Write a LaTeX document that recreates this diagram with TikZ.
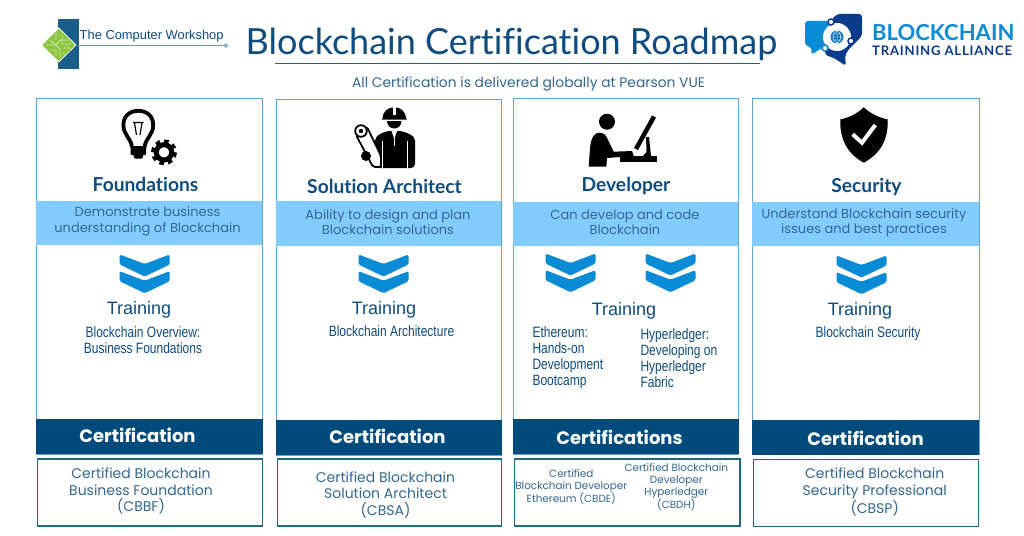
\documentclass[tikz,border=0pt]{standalone}
\usepackage{fontspec}
\setmainfont[Ligatures=NoCommon]{Lato}
\newfontfamily\bodyfont{Poppins}
\newfontfamily\plainfont{Liberation Sans}
\newfontfamily\narrowfont[FakeStretch=0.8]{Liberation Sans}
\newfontfamily\spacedfont[LetterSpace=6]{Lato}
\definecolor{inkblue}{HTML}{0F4C7F}
\definecolor{cardline}{HTML}{5FA5D8}
\definecolor{bandblue}{HTML}{82CCFF}
\definecolor{darkblue}{HTML}{004B7C}
\definecolor{certline}{HTML}{1F6A80}
\definecolor{chevblue}{HTML}{0A8BD6}
\definecolor{leafgreen}{HTML}{8CC63F}
\definecolor{navyblue}{HTML}{0B3B8C}
\tikzset{
  cardbox/.style={draw=cardline,fill=white,line width=1pt,anchor=north west,inner sep=0pt,minimum height=355.5pt},
  bandbox/.style={fill=bandblue,anchor=north west,inner sep=0pt,minimum height=44.5pt},
  darkbox/.style={fill=darkblue,anchor=north west,inner sep=0pt,minimum height=35pt},
  certbox/.style={draw=certline,fill=white,line width=1.6pt,anchor=north west,inner sep=0pt,minimum height=67pt},
  headtext/.style={text=inkblue,anchor=base,font=\bfseries\fontsize{19.2}{21}\selectfont},
  bandtext/.style={text=inkblue!85,align=center,font=\bodyfont\fontsize{13}{15.5}\selectfont},
  traintext/.style={text=inkblue,anchor=base,font=\plainfont\fontsize{18}{20}\selectfont},
  coursetext/.style={text=inkblue,font=\narrowfont\fontsize{15}{16}\selectfont},
  whitetext/.style={text=white,anchor=base,font=\bodyfont\bfseries\fontsize{18}{20}\selectfont},
  certtext/.style={text=inkblue!85,align=center,font=\bodyfont\fontsize{14}{16.5}\selectfont},
  smalltext/.style={text=inkblue!85,align=center,font=\bodyfont\fontsize{10.4}{12}\selectfont},
  chevrons/.pic={
    \fill[chevblue,rounded corners=1.5pt] (-25,0) -- (0,9.5) -- (25,0) -- (25,10) -- (0,22) -- (-25,10) -- cycle;
    \fill[chevblue,rounded corners=1.5pt] (-25,16.7) -- (0,26.2) -- (25,16.7) -- (25,26.7) -- (0,38.7) -- (-25,26.7) -- cycle;
  }
}
\begin{document}
\begin{tikzpicture}[x=1pt,y=-1pt]
  \useasboundingbox (0,0) rectangle (1024,535);
  \fill[white] (0,0) rectangle (1024,535);
  \node[text=inkblue,anchor=base west,inner sep=0pt,font=\fontsize{36}{40}\selectfont] (title) at (245.5,54.5) {Blockchain Certification Roadmap};
  \coordinate (rule0) at (275,63.5);
  \coordinate (rule1) at (760,63.5);
  \draw[inkblue!90,line width=0.9pt] (rule0) -- (rule1);
  \node[text=inkblue!85,anchor=base,inner sep=0pt,font=\bodyfont\fontsize{13.85}{15}\selectfont] (subtitle) at (528.5,87) {All Certification is delivered globally at Pearson VUE};

  \fill[darkblue!90] (58,19) rectangle (78.5,69);
  \fill[leafgreen,draw=white,line width=0.8pt] (41.5,45) -- (58.8,28) -- (76,45) -- (58.8,62) -- cycle;
  \draw[white!60!leafgreen,line width=0.8pt] (46,45) -- (56,45) -- (60,40) -- (68,40) (50,40) -- (60,49) -- (60,57) (56,33) -- (56,40) (62,35) -- (62,44) -- (71,44) (64,48) -- (70,48) (50,50) -- (56,50) -- (56,56) (64,52) -- (64,55);
  \node[text=inkblue,anchor=base west,inner sep=0pt,font=\plainfont\fontsize{12.9}{16}\selectfont] (tcwname) at (79.5,40) {The Computer Workshop};
  \coordinate (tcw0) at (78,45.5);
  \coordinate (tcw1) at (226,45.5);
  \draw[inkblue!60,line width=0.7pt] (tcw0) -- (tcw1);
  \draw[inkblue!60,line width=0.7pt] (226,45.5) circle (1.8);

  \fill[chevblue,rounded corners=3pt] (805,21) -- (830,21) -- (830,47) -- (820,49) -- (811,55) -- (812,48) -- (805,45) -- cycle;
  \fill[navyblue,rounded corners=3pt] (831,20) -- (837,14) -- (862,14) -- (862,36) -- (848,50) -- (845,56) -- (846,66) -- (834,58) -- (825,55) -- (825,46) -- cycle;
  \fill[white] (837,37) circle (14);
  \fill[chevblue!70!navyblue] (837,37) circle (6.5);
  \draw[white,line width=0.4pt] (830.5,37) -- (843.5,37) (837,30.5) -- (837,43.5) (831.5,34) -- (842.5,34) (831.5,40) -- (842.5,40) (837,30.5) .. controls (832,34) and (832,40) .. (837,43.5) (837,30.5) .. controls (842,34) and (842,40) .. (837,43.5);
  \draw[navyblue,fill=white,line width=1.5pt] (831,22) circle (3);
  \draw[navyblue,fill=white,line width=1.5pt] (851,41) circle (3);
  \draw[chevblue,fill=white,line width=1.5pt] (825,48) circle (3);
  \node[text=chevblue,anchor=base west,inner sep=0pt,font=\bfseries\fontsize{22}{24}\selectfont] (btaname) at (872,41) {BLOCKCHAIN};
  \node[text=navyblue,anchor=base west,inner sep=0pt,font=\spacedfont\bfseries\fontsize{13.1}{14}\selectfont] (btasub) at (872,55.5) {TRAINING ALLIANCE};

  \node[cardbox,minimum width=226pt] (card0) at (36,98) {};
  \node[cardbox,minimum width=225pt] (card1) at (276,99) {};
  \node[cardbox,minimum width=225.5pt] (card2) at (512.5,98) {};
  \node[cardbox,minimum width=226.5pt] (card3) at (752,98) {};

  \node[bandbox,minimum width=226pt] (band0) at (36,200.5) {};
  \node[bandbox,minimum width=225pt] (band1) at (276,201) {};
  \node[bandbox,minimum width=225.5pt] (band2) at (512.5,201.5) {};
  \node[bandbox,minimum width=226.5pt] (band3) at (752,201.5) {};

  \node[darkbox,minimum width=226.5pt] (dark0) at (36,419) {};
  \node[darkbox,minimum width=225.5pt] (dark1) at (276,419.5) {};
  \node[darkbox,minimum width=226pt] (dark2) at (512.5,419) {};
  \node[darkbox,minimum width=227pt] (dark3) at (752,420) {};

  \node[certbox,minimum width=225pt] (cert0) at (36.5,458) {};
  \node[certbox,minimum width=224pt] (cert1) at (276.5,458) {};
  \node[certbox,minimum width=225.5pt] (cert2) at (513.5,458) {};
  \node[certbox,minimum width=225pt] (cert3) at (752.5,458.5) {};

  \draw[line width=3.8pt] (132,147) .. controls (131,138) and (123.4,135) .. (123.4,125) .. controls (123.4,116) and (130,110.8) .. (138.3,110.8) .. controls (146.6,110.8) and (153.2,116) .. (153.2,125) .. controls (153.2,135) and (145.6,138) .. (144.6,147);
  \fill[rounded corners=1pt] (130.5,146) rectangle (146,155);
  \fill[rounded corners=1.5pt] (133.5,154) rectangle (143,158.5);
  \draw[line width=1.2pt] (133,122.5) -- (143.5,122.5) (134.5,123) -- (136.5,135) (142,123) -- (140,135);
  \draw[line width=4pt,dash pattern=on 4.4pt off 4.2pt] (164,152.3) circle (11);
  \draw[line width=5pt] (164,152.3) circle (7.7);

  \fill (382.5,118.5) .. controls (383,111) and (388,107.3) .. (394.3,107.3) .. controls (400.6,107.3) and (405.5,111) .. (406,118.5) -- (407,119.5) -- (381.5,119.5) -- cycle;
  \fill[white] (392.7,107) rectangle (395.9,115);
  \fill (387,121) .. controls (387,125) and (390,128.5) .. (394.3,128.5) .. controls (398.5,128.5) and (401.5,125) .. (401.5,121) -- cycle;
  \fill[rounded corners=4pt] (375,168) -- (375,137) -- (386,131) -- (403,131) -- (415,137) -- (415,168) -- cycle;
  \draw[white,line width=1pt] (382,141) -- (382,168) (407,141) -- (407,168);
  \fill[white] (391.5,131) -- (397,131) -- (394.3,139) -- cycle;
  \draw[white,line width=0.8pt] (394.3,131) -- (394.3,146);
  \draw[fill=white,line width=1.8pt,rounded corners=2pt] (356,135) -- (367,127) -- (381,156) -- (381,167) -- (373,167) -- cycle;
  \draw[fill=white,line width=1.8pt] (361,131) circle (5.8);
  \fill (361,131) circle (2.2);
  \fill (366,156) circle (5);

  \fill (607,121.7) circle (8);
  \fill (588.7,166.7) -- (590,148) .. controls (591,137) and (595,132.7) .. (599,132.7) .. controls (604,132.7) and (606,135) .. (608,140) -- (613.7,151.7) -- (632,151) -- (634,156.7) -- (620,157) -- (607,158) -- (606.3,166.7) -- cycle;
  \fill (620.3,156) rectangle (657,161.7);
  \draw[line width=4.5pt] (636,149) -- (654,116.5);
  \fill (646,137) -- (649,137) -- (651,156) -- (643,156) -- (646.5,152) -- cycle;

  \fill (863.7,107.3) .. controls (870,113) and (879,118) .. (887.7,119.3) .. controls (888.5,140) and (880,154) .. (863.7,162.7) .. controls (848,154) and (839.5,140) .. (840.3,119.3) .. controls (849,118) and (858,113) .. (863.7,107.3) -- cycle;
  \draw[white,line width=4pt] (852.7,134.3) -- (862,142.7) -- (875.3,125);

  \node[headtext] (head0) at (145.5,191) {Foundations};
  \node[headtext] (head1) at (384.5,193.5) {Solution Architect};
  \node[headtext] (head2) at (626,191) {Developer};
  \node[headtext] (head3) at (866.5,192) {Security};

  \node[bandtext] (goal0) at (147.5,221.5) {Demonstrate business\\understanding of Blockchain};
  \node[bandtext] (goal1) at (388,222) {Ability to design and plan\\Blockchain solutions};
  \node[bandtext] (goal2) at (625,222) {Can develop and code\\Blockchain};
  \node[bandtext] (goal3) at (864,222.5) {Understand Blockchain security\\issues and best practices};

  \pic (chev0) at (144.7,254.5) {chevrons};
  \pic (chev1) at (383.5,254.5) {chevrons};
  \pic (chev2) at (570.5,253.5) {chevrons};
  \pic (chev3) at (670.5,253.5) {chevrons};
  \pic (chev4) at (861.5,255.5) {chevrons};

  \node[traintext] (train0) at (139,314) {Training};
  \node[traintext] (train1) at (384,314) {Training};
  \node[traintext] (train2) at (624,315) {Training};
  \node[traintext] (train3) at (860,315) {Training};

  \node[coursetext,align=center] (course0) at (143,340.5) {Blockchain Overview:\\Business Foundations};
  \node[coursetext,anchor=base] (course1) at (391.5,336.7) {Blockchain Architecture};
  \node[coursetext,align=left,anchor=west] (course2) at (529,357.5) {Ethereum:\\Hands-on\\Development\\Bootcamp};
  \node[coursetext,align=left,anchor=west] (course3) at (637,358) {Hyperledger:\\Developing on\\Hyperledger\\Fabric};
  \node[coursetext,anchor=base] (course4) at (868,337.5) {Blockchain Security};

  \node[whitetext] (label0) at (137.5,442.7) {Certification};
  \node[whitetext] (label1) at (387.5,443.5) {Certification};
  \node[whitetext] (label2) at (619.5,444) {Certifications};
  \node[whitetext] (label3) at (865.5,445) {Certification};

  \node[certtext] (name0) at (141,491) {Certified Blockchain\\Business Foundation\\(CBBF)};
  \node[certtext] (name1) at (385.5,494.5) {Certified Blockchain\\Solution Architect\\(CBSA)};
  \node[smalltext] (name2) at (571.3,487) {Certified\\Blockchain Developer\\Ethereum (CBDE)};
  \node[smalltext] (name3) at (676.3,487) {Certified Blockchain\\Developer\\Hyperledger\\(CBDH)};
  \node[certtext] (name4) at (874.7,492) {Certified Blockchain\\Security Professional\\(CBSP)};
\end{tikzpicture}
\end{document}
